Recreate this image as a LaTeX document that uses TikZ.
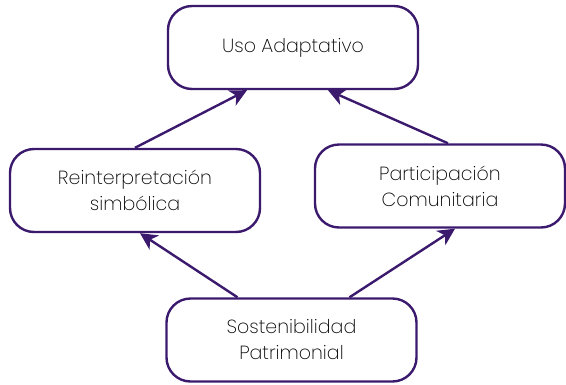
\documentclass[tikz,border=0pt]{standalone}
\usepackage{fontspec}
\setmainfont{Poppins}[UprightFont={* ExtraLight}]
\usetikzlibrary{arrows.meta}
\definecolor{morado}{HTML}{3B1A6E}
\begin{document}
\begin{tikzpicture}[x=1pt, y=-1pt,
  caja/.style={draw=morado, line width=2.4pt, rounded corners=24pt, fill=white,
    minimum width=250pt, minimum height=83pt, align=center, font=\fontsize{19}{26}\selectfont, text=black},
  flecha/.style={draw=morado, line width=2.4pt, -{Stealth[length=17pt, width=17pt, inset=5pt]}}]
\useasboundingbox (0,0) rectangle (566,384);
\node[caja] (uso) at (293,47.5) {Uso Adaptativo};
\node[caja] (rein) at (135,190.5) {Reinterpretación\\simbólica};
\node[caja] (part) at (440,186) {Participación\\Comunitaria};
\node[caja] (sost) at (291.5,340) {Sostenibilidad\\Patrimonial};
% flechas
\draw[flecha] (rein.north) -- ([xshift=-46pt]uso.south);
\draw[flecha] ([xshift=8pt]part.north) -- ([xshift=35pt]uso.south);
\draw[flecha] ([xshift=-54pt]sost.north) -- ([xshift=5pt]rein.south);
\draw[flecha] ([xshift=58pt]sost.north) -- ([xshift=15pt]part.south);
\end{tikzpicture}
\end{document}
